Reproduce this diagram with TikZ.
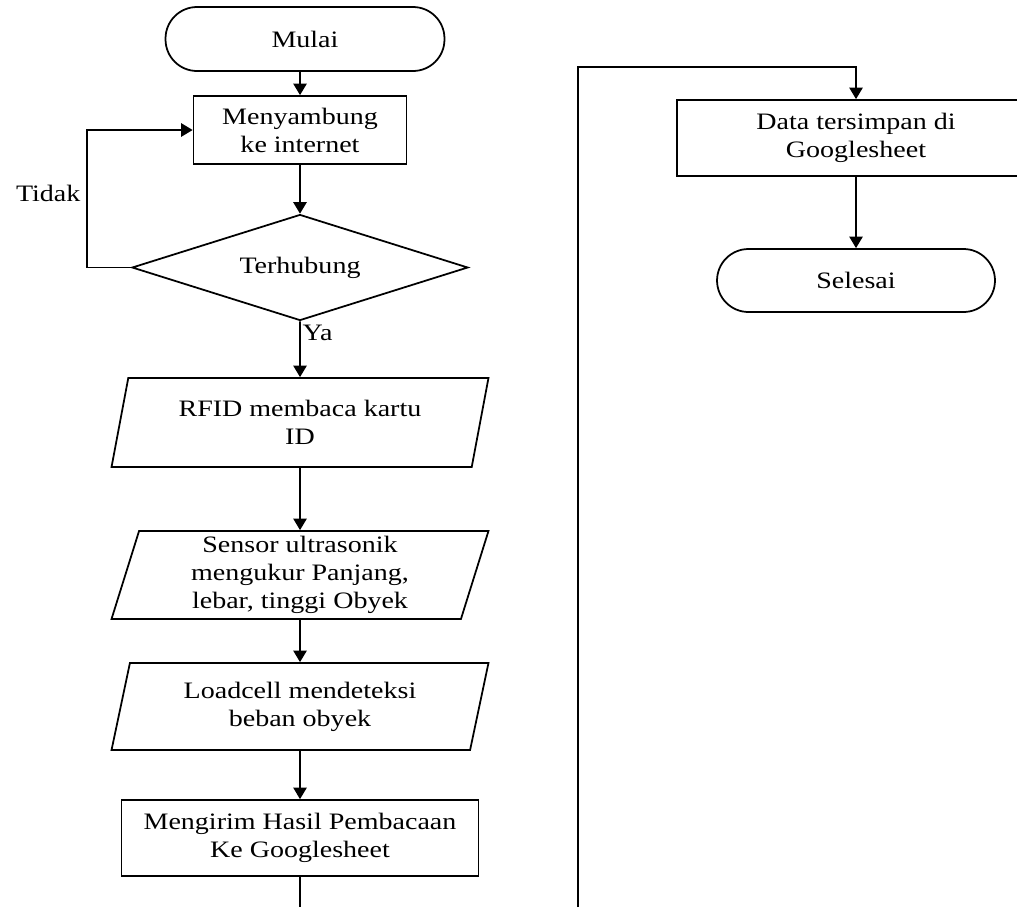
\documentclass[tikz,border=0pt]{standalone}
\usepackage{fontspec}
\setmainfont{Liberation Serif}[FakeStretch=1.19]
\usetikzlibrary{arrows.meta,shapes.geometric}

\tikzset{
  base/.style={draw, line width=1pt, align=center, inner sep=2pt,
    font=\fontsize{13.4}{16}\selectfont},
  terminal/.style={base, rectangle, rounded corners=0.63cm,
    minimum width=5.58cm, minimum height=1.28cm},
  process/.style={base, rectangle},
  decision/.style={base, diamond, aspect=3.2, inner sep=0pt,
    minimum width=6.72cm, minimum height=2.12cm},
  inout/.style={base, trapezium, trapezium left angle=72,
    trapezium right angle=108, trapezium stretches body,
    minimum width=7.54cm, minimum height=1.76cm},
  flow/.style={line width=1pt, -{Triangle[width=7.5pt,length=6.5pt]}},
  plain/.style={line width=1pt}
}

\begin{document}
\begin{tikzpicture}[x=0.02cm,y=-0.02cm]

  \useasboundingbox (0,0) rectangle (1017,907);

  % left column
  \node[terminal] (mulai) at (305,39) {Mulai};
  \node[process, minimum width=4.26cm, minimum height=1.36cm] (connect) at (300,130) {Menyambung\\ke internet};
  \node[decision] (check) at (300,267.5) {Terhubung};
  \node[inout, minimum height=1.78cm] (rfid) at (300,422.5) {RFID membaca kartu\\ID};
  \node[inout] (sensor) at (300,575) {Sensor ultrasonik\\mengukur Panjang,\\lebar, tinggi Obyek};
  \node[inout, minimum height=1.74cm] (load) at (300,706.5) {Loadcell mendeteksi\\beban obyek};
  \node[process, minimum width=7.14cm, minimum height=1.52cm] (send) at (300,838) {Mengirim Hasil Pembacaan\\Ke Googlesheet};

  % right column
  \node[process, minimum width=7.16cm, minimum height=1.52cm] (data) at (856,138) {Data tersimpan di\\Googlesheet};
  \node[terminal, minimum width=5.56cm, minimum height=1.26cm] (selesai) at (856,280.5) {Selesai};

  % page break ends
  \coordinate (sendout) at (300,907);
  \coordinate (datain) at (578,907);
  \coordinate (datatop) at (856,67);

  % connectors
  \draw[flow] (mulai.south -| connect.north) -- (connect.north);
  \draw[flow] (connect) -- (check);
  \draw[flow] (check.west) -- ++(-44,0) |- node[pos=0.27, left, font=\fontsize{13.4}{16}\selectfont] {Tidak} (connect.west);
  \draw[flow] (check.south) -- node[pos=0.2, right, inner sep=1pt, font=\fontsize{13.4}{16}\selectfont] {Ya} (rfid.north);
  \draw[flow] (rfid) -- (sensor);
  \draw[flow] (sensor) -- (load);
  \draw[flow] (load) -- (send);
  \draw[plain] (send) -- (sendout);
  \draw[flow] (datain) |- (datatop) -- (data.north);
  \draw[flow] (data) -- (selesai);

\end{tikzpicture}
\end{document}
